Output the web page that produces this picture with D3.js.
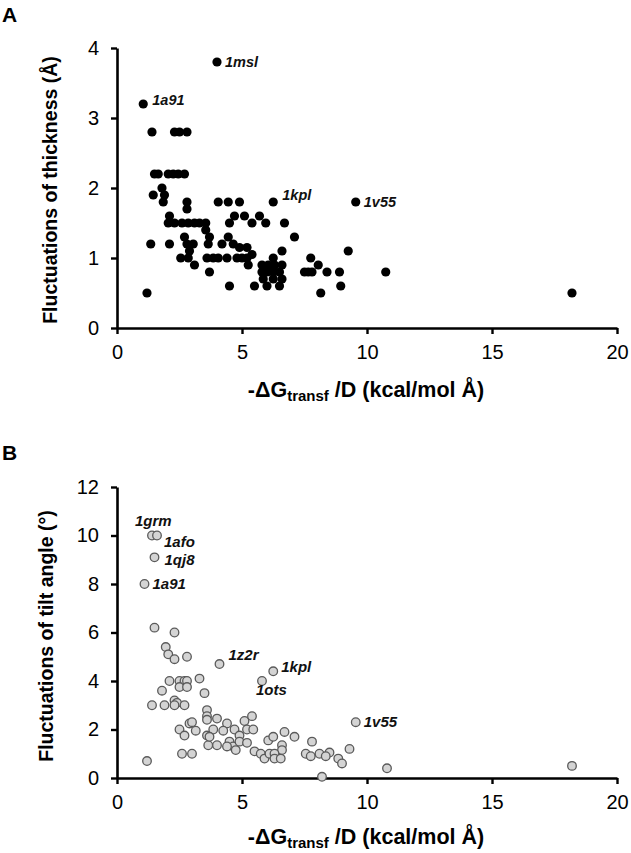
<!DOCTYPE html>
<html>
<head>
<meta charset="utf-8">
<script src="https://cdn.jsdelivr.net/npm/d3@7"></script>
<style>
  html, body { margin: 0; padding: 0; background: #fff; }
  svg { display: block; font-family: "Liberation Sans", Arial, sans-serif; }
</style>
</head>
<body>
<script>
// ---------- DATA ----------
const xTicks = [0, 5, 10, 15, 20];
const thickTicks = [0, 1, 2, 3, 4];
const tiltTicks = [0, 2, 4, 6, 8, 10, 12];

// Panel A: -dG/D vs thickness fluctuations
const thickX = [1.05, 4.0, 1.4, 2.3, 2.5, 2.8, 1.5, 1.65, 2.05, 2.25, 2.45, 2.7,
  1.8, 1.45, 1.9, 1.85, 2.8, 2.8, 4.05, 4.45, 4.9, 6.25, 9.55,
  2.1, 2.05, 2.3, 2.6, 2.85, 3.1, 3.3, 3.55,
  4.5, 4.7, 5.1, 5.4, 5.7, 5.95, 6.7,
  3.55, 2.7, 7.1, 3.7, 4.45,
  1.35, 2.1, 2.8, 3.05, 3.65, 4.2, 4.65, 4.9, 5.2, 5.4,
  2.9, 2.55, 2.85, 3.6, 3.85, 4.05, 4.4, 4.8, 5.0, 5.2,
  3.1, 3.7, 5.25,
  6.25, 6.6, 5.8, 6.05, 6.3, 6.6, 5.8, 6.0, 6.25, 6.5, 5.85, 6.25, 6.6,
  4.5, 5.5, 6.0, 6.5, 1.2,
  7.75, 7.65, 7.5, 7.8, 8.05, 8.4, 8.9, 8.95, 8.15, 9.25, 10.75, 18.2];
const thickY = [3.2, 3.8, 2.8, 2.8, 2.8, 2.8, 2.2, 2.2, 2.2, 2.2, 2.2, 2.2,
  2.0, 1.9, 1.9, 1.8, 1.8, 1.7, 1.8, 1.8, 1.8, 1.8, 1.8,
  1.6, 1.5, 1.5, 1.5, 1.5, 1.5, 1.5, 1.5,
  1.5, 1.6, 1.6, 1.5, 1.6, 1.5, 1.5,
  1.4, 1.3, 1.3, 1.3, 1.3,
  1.2, 1.2, 1.2, 1.2, 1.2, 1.2, 1.2, 1.15, 1.15, 1.05,
  1.1, 1.0, 1.0, 1.0, 1.0, 1.0, 1.0, 1.0, 1.0, 1.0,
  0.9, 0.8, 0.9,
  1.0, 1.1, 0.9, 0.9, 0.9, 0.9, 0.8, 0.8, 0.8, 0.8, 0.7, 0.7, 0.7,
  0.6, 0.6, 0.6, 0.6, 0.5,
  1.0, 0.8, 0.8, 0.8, 0.9, 0.8, 0.8, 0.6, 0.5, 1.1, 0.8, 0.5];
const thickLabelNames = ["1msl", "1a91", "1kpl", "1v55"];
const thickLabelX = [4.0, 1.05, 6.25, 9.55];
const thickLabelY = [3.8, 3.2, 1.8, 1.8];

// Panel B: -dG/D vs tilt angle fluctuations
const tiltX = [1.4, 1.6, 1.5, 1.1,
  1.5, 2.3, 1.95, 2.05, 2.3, 2.8,
  4.1, 6.25, 5.8,
  2.1, 2.5, 2.7, 2.8, 3.3, 2.5, 2.8, 1.8, 3.5,
  2.3, 2.4, 1.4, 1.9, 2.3, 2.7,
  3.6, 3.6, 4.0, 4.4, 5.1, 5.4, 3.6, 2.9, 3.0,
  2.5, 2.7, 3.15, 3.6, 3.85, 4.25, 4.7, 4.9, 5.2, 5.45, 4.5, 4.65, 4.9, 5.2, 3.65, 4.0, 4.4, 4.75, 3.7,
  6.05, 6.25, 6.7, 7.1, 6.6, 6.6, 5.5, 5.75, 5.9, 6.1, 6.3, 6.3, 6.55,
  7.8, 7.55, 7.75, 8.1, 8.5, 8.35, 8.85, 9.0, 9.3, 8.2, 10.8, 18.2,
  2.6, 3.0, 1.2, 9.55];
const tiltY = [10.0, 10.0, 9.1, 8.0,
  6.2, 6.0, 5.4, 5.1, 4.9, 5.0,
  4.7, 4.4, 4.0,
  4.0, 4.0, 4.0, 4.0, 4.1, 3.75, 3.75, 3.6, 3.5,
  3.2, 3.1, 3.0, 3.0, 3.0, 3.0,
  2.8, 2.55, 2.45, 2.25, 2.35, 2.55, 2.4, 2.25, 2.3,
  2.0, 1.75, 1.95, 1.75, 2.0, 1.95, 2.0, 1.75, 2.0, 2.0, 1.5, 1.3, 1.5, 1.45, 1.35, 1.35, 1.3, 1.15, 1.7,
  1.55, 1.7, 1.9, 1.7, 1.35, 1.15, 1.1, 1.0, 0.8, 1.0, 1.0, 0.8, 0.8,
  1.5, 1.0, 0.9, 1.0, 1.05, 0.9, 0.8, 0.6, 1.2, 0.05, 0.4, 0.5,
  1.0, 1.0, 0.7, 2.3];
const tiltLabelNames = ["1grm", "1afo", "1qj8", "1a91", "1z2r", "1kpl", "1ots", "1v55"];
const tiltLabelX = [1.4, 1.6, 1.5, 1.1, 4.1, 6.25, 5.8, 9.55];
const tiltLabelY = [10.0, 10.0, 9.1, 8.0, 4.7, 4.4, 4.0, 2.3];
// label offsets (pixels) relative to the point they name
const tiltLabelDX = [-17, 7, 10, 8, 9, 8, -6, 8];
const tiltLabelDY = [-10, 11, 8, 5, -4, 1, 14, 5];
const thickLabelDX = [8, 9, 9, 8];
const thickLabelDY = [5, 1, -2, 5];

// ---------- DRAW ----------
const W = 631, H = 853;
const svg = d3.select("body").append("svg").attr("width", W).attr("height", H);

function panel(cfg) {
  const x = d3.scaleLinear().domain([0, 20]).range([117, 617]);
  const y = d3.scaleLinear().domain(cfg.yDomain).range([cfg.y0, cfg.y1]);
  const g = svg.append("g");

  const xa = g.append("g").attr("transform", `translate(0,${cfg.y0})`)
    .call(d3.axisBottom(x).tickValues(xTicks).tickFormat(d3.format("d"))
      .tickSize(6).tickSizeOuter(0).tickPadding(11));
  const ya = g.append("g").attr("transform", `translate(117,0)`)
    .call(d3.axisLeft(y).tickValues(cfg.yTicks).tickFormat(d3.format("d"))
      .tickSize(6).tickSizeOuter(0).tickPadding(12));
  [xa, ya].forEach(a => {
    a.select(".domain").attr("stroke", "#000").attr("stroke-width", 2.6);
    a.selectAll(".tick line").attr("stroke", "#000").attr("stroke-width", 2.4);
    a.selectAll(".tick text").attr("fill", "#000")
      .style("font-size", "20px").style("font-family", "'Liberation Sans', Arial, sans-serif");
  });

  // points
  const pts = cfg.xs.map((v, i) => [v, cfg.ys[i]]);
  g.append("g").selectAll("circle").data(pts).join("circle")
    .attr("cx", d => x(d[0])).attr("cy", d => y(d[1]))
    .attr("r", cfg.r)
    .attr("fill", cfg.fill).attr("stroke", cfg.stroke).attr("stroke-width", cfg.sw);

  // point labels
  g.append("g").selectAll("text").data(cfg.labels).join("text")
    .attr("x", (d, i) => x(cfg.lx[i]) + cfg.ldx[i])
    .attr("y", (d, i) => y(cfg.ly[i]) + cfg.ldy[i])
    .attr("font-size", cfg.lfs).attr("font-weight", "bold").attr("font-style", "italic")
    .attr("fill", "#111").text(d => d);

  // y title
  g.append("text")
    .attr("transform", `translate(${cfg.ytx},${cfg.ytY}) rotate(-90)`)
    .attr("text-anchor", "middle").attr("dy", "0.35em").attr("font-size", 19.5).attr("font-weight", "bold")
    .text(cfg.yTitle);

  // x title
  const t = g.append("text").attr("x", 366).attr("y", cfg.y0 + cfg.xtOff)
    .attr("text-anchor", "middle").attr("font-size", 21.5).attr("font-weight", "bold");
  t.append("tspan").text("-\u0394G");
  t.append("tspan").attr("font-size", 15).attr("dy", 4).text("transf");
  t.append("tspan").attr("dy", -4).text(" /D (kcal/mol \u00C5)");

  // panel letter
  g.append("text").attr("x", 2).attr("y", cfg.letterY)
    .attr("font-size", 21).attr("font-weight", "bold").text(cfg.letter);
}

panel({
  yDomain: [0, 4], y0: 328, y1: 48, yTicks: thickTicks,
  xs: thickX, ys: thickY, r: 4.6, fill: "#000", stroke: "#000", sw: 0,
  labels: thickLabelNames, lx: thickLabelX, ly: thickLabelY, ldx: thickLabelDX, ldy: thickLabelDY,
  lfs: 14.5, ytx: 50, ytY: 190, xtOff: 69,
  yTitle: "Fluctuations of thickness (\u00C5)", letter: "A", letterY: 22
});

panel({
  yDomain: [0, 12], y0: 778, y1: 487, yTicks: tiltTicks,
  xs: tiltX, ys: tiltY, r: 4.3, fill: "#d4d4d4", stroke: "#5a5a5a", sw: 1.3,
  labels: tiltLabelNames, lx: tiltLabelX, ly: tiltLabelY, ldx: tiltLabelDX, ldy: tiltLabelDY,
  lfs: 15, ytx: 46, ytY: 636, xtOff: 66,
  yTitle: "Fluctuations of tilt angle (\u00B0)", letter: "B", letterY: 460
});
</script>
</body>
</html>
